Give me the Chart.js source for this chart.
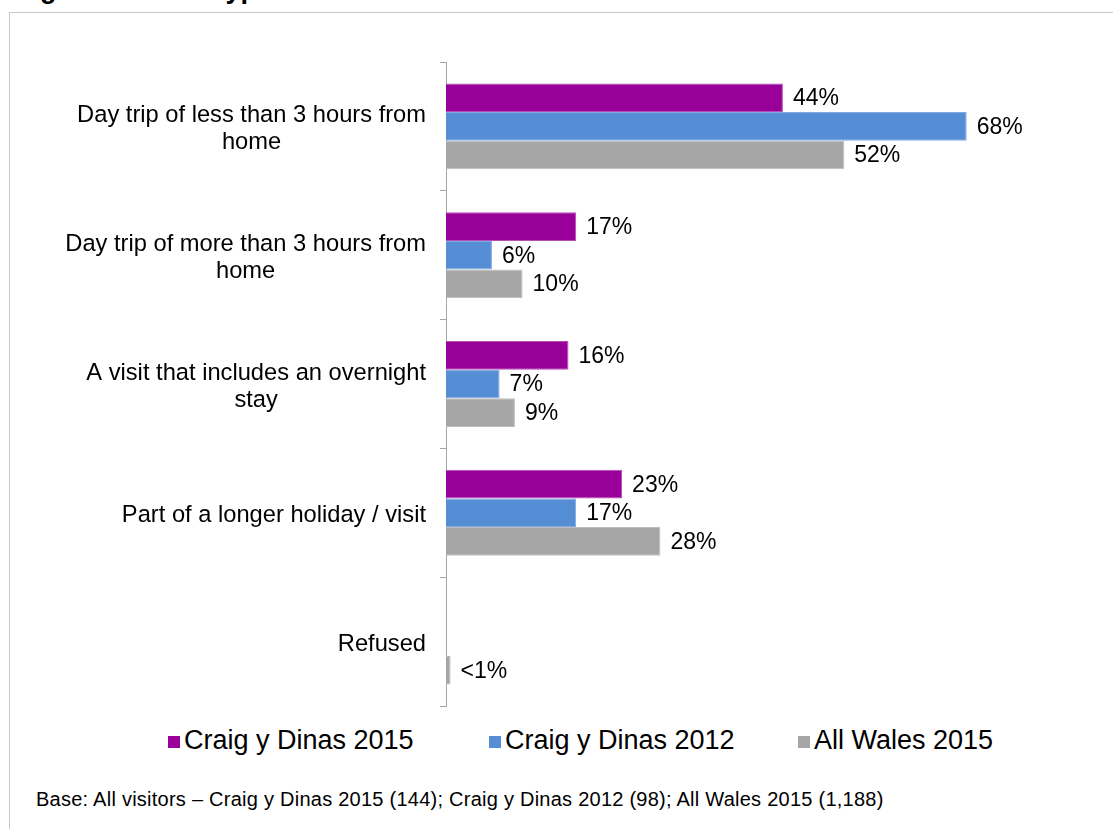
<!DOCTYPE html>
<html>
<head>
<meta charset="utf-8">
<script src="https://cdn.jsdelivr.net/npm/chart.js@4.4.1/dist/chart.umd.min.js"></script>
<style>
    html, body {
        margin: 0;
        padding: 0;
        width: 1113px;
        height: 829px;
        overflow: hidden;
        background: #fff;
        font-family: "Liberation Sans", Arial, sans-serif;
        color: #000;
    }
    .title {
        position: absolute;
        left: 16px;
        top: -24px;
        font-size: 27px;
        line-height: 27px;
        font-weight: bold;
        white-space: nowrap;
    }
    .frame {
        position: absolute;
        left: 9px;
        top: 12px;
        width: 1200px;
        height: 900px;
        border: 1px solid #c8c8c8;
    }
    .chart-box {
        position: absolute;
        left: 0;
        top: 0;
        width: 1113px;
        height: 720px;
    }
    .legend {
        position: absolute;
        top: 724px;
        left: 0;
        height: 32px;
        font-size: 27px;
        line-height: 32px;
        white-space: nowrap;
    }
    .legend-item {
        position: absolute;
        top: 0;
    }
    .legend-item .swatch {
        display: inline-block;
        width: 12px;
        height: 12px;
        margin-right: 4px;
        vertical-align: 1px;
    }
    .note {
        position: absolute;
        left: 36px;
        top: 788px;
        font-size: 20px;
        letter-spacing: 0.25px;
        white-space: nowrap;
    }
</style>
</head>
<body>
<div class="title">Figure 12: Visit type</div>
<div class="frame"></div>
<div class="chart-box"><canvas id="visit-chart"></canvas></div>
<div class="legend" id="legend"></div>
<div class="note">Base: All visitors – Craig y Dinas 2015 (144); Craig y Dinas 2012 (98); All Wales 2015 (1,188)</div>

<script>
// Données (en %)
const categories = [
    ['Day trip of less than 3 hours from', 'home'],
    ['Day trip of more than 3 hours from', 'home'],
    ['A visit that includes an overnight', 'stay'],
    ['Part of a longer holiday / visit'],
    ['Refused']
];
const seriesNames = ['Craig y Dinas 2015', 'Craig y Dinas 2012', 'All Wales 2015'];
const craig2015 = [44, 17, 16, 23, null];
const craig2012 = [68, 6, 7, 17, null];
const wales2015 = [52, 10, 9, 28, 0.6];
const seriesColors = ['#990099', '#558ed5', '#a6a6a6'];
const seriesBorders = ['#b54db5', '#7fa9e0', '#bdbdbd'];

const FONT = '"Liberation Sans", Arial, sans-serif';

// libellés des catégories : bloc aligné à droite, lignes centrées
const categoryLabels = {
    id: 'categoryLabels',
    afterDraw(chart) {
        const ctx = chart.ctx;
        const yScale = chart.scales.y;
        const right = chart.chartArea.left - 20;
        const lineH = 27;
        ctx.save();
        ctx.font = '23.7px ' + FONT;
        ctx.fillStyle = '#000';
        ctx.textAlign = 'center';
        ctx.textBaseline = 'middle';
        categories.forEach((lines, i) => {
            const y = yScale.getPixelForValue(i) + 3;
            const blockW = Math.max(...lines.map(l => ctx.measureText(l).width));
            const cx = right - blockW / 2;
            const y0 = y - (lines.length - 1) * lineH / 2;
            lines.forEach((l, j) => ctx.fillText(l, cx, y0 + j * lineH));
        });
        ctx.restore();
    }
};

// étiquettes de valeurs au bout des barres
const valueLabels = {
    id: 'valueLabels',
    afterDatasetsDraw(chart) {
        const ctx = chart.ctx;
        ctx.save();
        ctx.font = '23px ' + FONT;
        ctx.fillStyle = '#000';
        ctx.textAlign = 'left';
        ctx.textBaseline = 'middle';
        chart.data.datasets.forEach((ds, di) => {
            chart.getDatasetMeta(di).data.forEach((bar, i) => {
                const v = ds.data[i];
                if (v === null || v === undefined) return;
                const text = v < 1 ? '<1%' : v + '%';
                ctx.fillText(text, bar.x + 10, bar.y + 1);
            });
        });
        ctx.restore();
    }
};

function createVisitChart() {
    const ctx = document.getElementById('visit-chart').getContext('2d');
    const values = [craig2015, craig2012, wales2015];

    new Chart(ctx, {
        type: 'bar',
        data: {
            labels: categories,
            datasets: seriesNames.map((name, i) => ({
                label: name,
                data: values[i],
                backgroundColor: seriesColors[i],
                borderColor: seriesBorders[i],
                borderWidth: 1,
                borderSkipped: 'left',
                categoryPercentage: 0.667,
                barPercentage: 1
            }))
        },
        options: {
            indexAxis: 'y',
            responsive: true,
            maintainAspectRatio: false,
            animation: false,
            layout: {
                padding: { top: 62, bottom: 14, left: 0, right: 131 }
            },
            scales: {
                x: {
                    display: false,
                    min: 0,
                    max: 70
                },
                y: {
                    ticks: { display: false },
                    afterFit(scale) {
                        scale.width = 446;
                    },
                    grid: {
                        drawOnChartArea: false,
                        drawTicks: true,
                        tickLength: 6,
                        color: '#a6a6a6',
                        offset: true
                    },
                    border: {
                        color: '#a6a6a6',
                        width: 1
                    }
                }
            },
            plugins: {
                legend: { display: false },
                tooltip: { enabled: false }
            }
        },
        plugins: [categoryLabels, valueLabels]
    });
}

function renderLegend() {
    const container = document.getElementById('legend');
    const lefts = [168, 489, 798];
    container.innerHTML = seriesNames.map((name, i) => `
        <div class="legend-item" style="left:${lefts[i]}px">
            <span class="swatch" style="background:${seriesColors[i]}"></span>${name}
        </div>
    `).join('');
}

document.addEventListener('DOMContentLoaded', () => {
    createVisitChart();
    renderLegend();
});
</script>
</body>
</html>
